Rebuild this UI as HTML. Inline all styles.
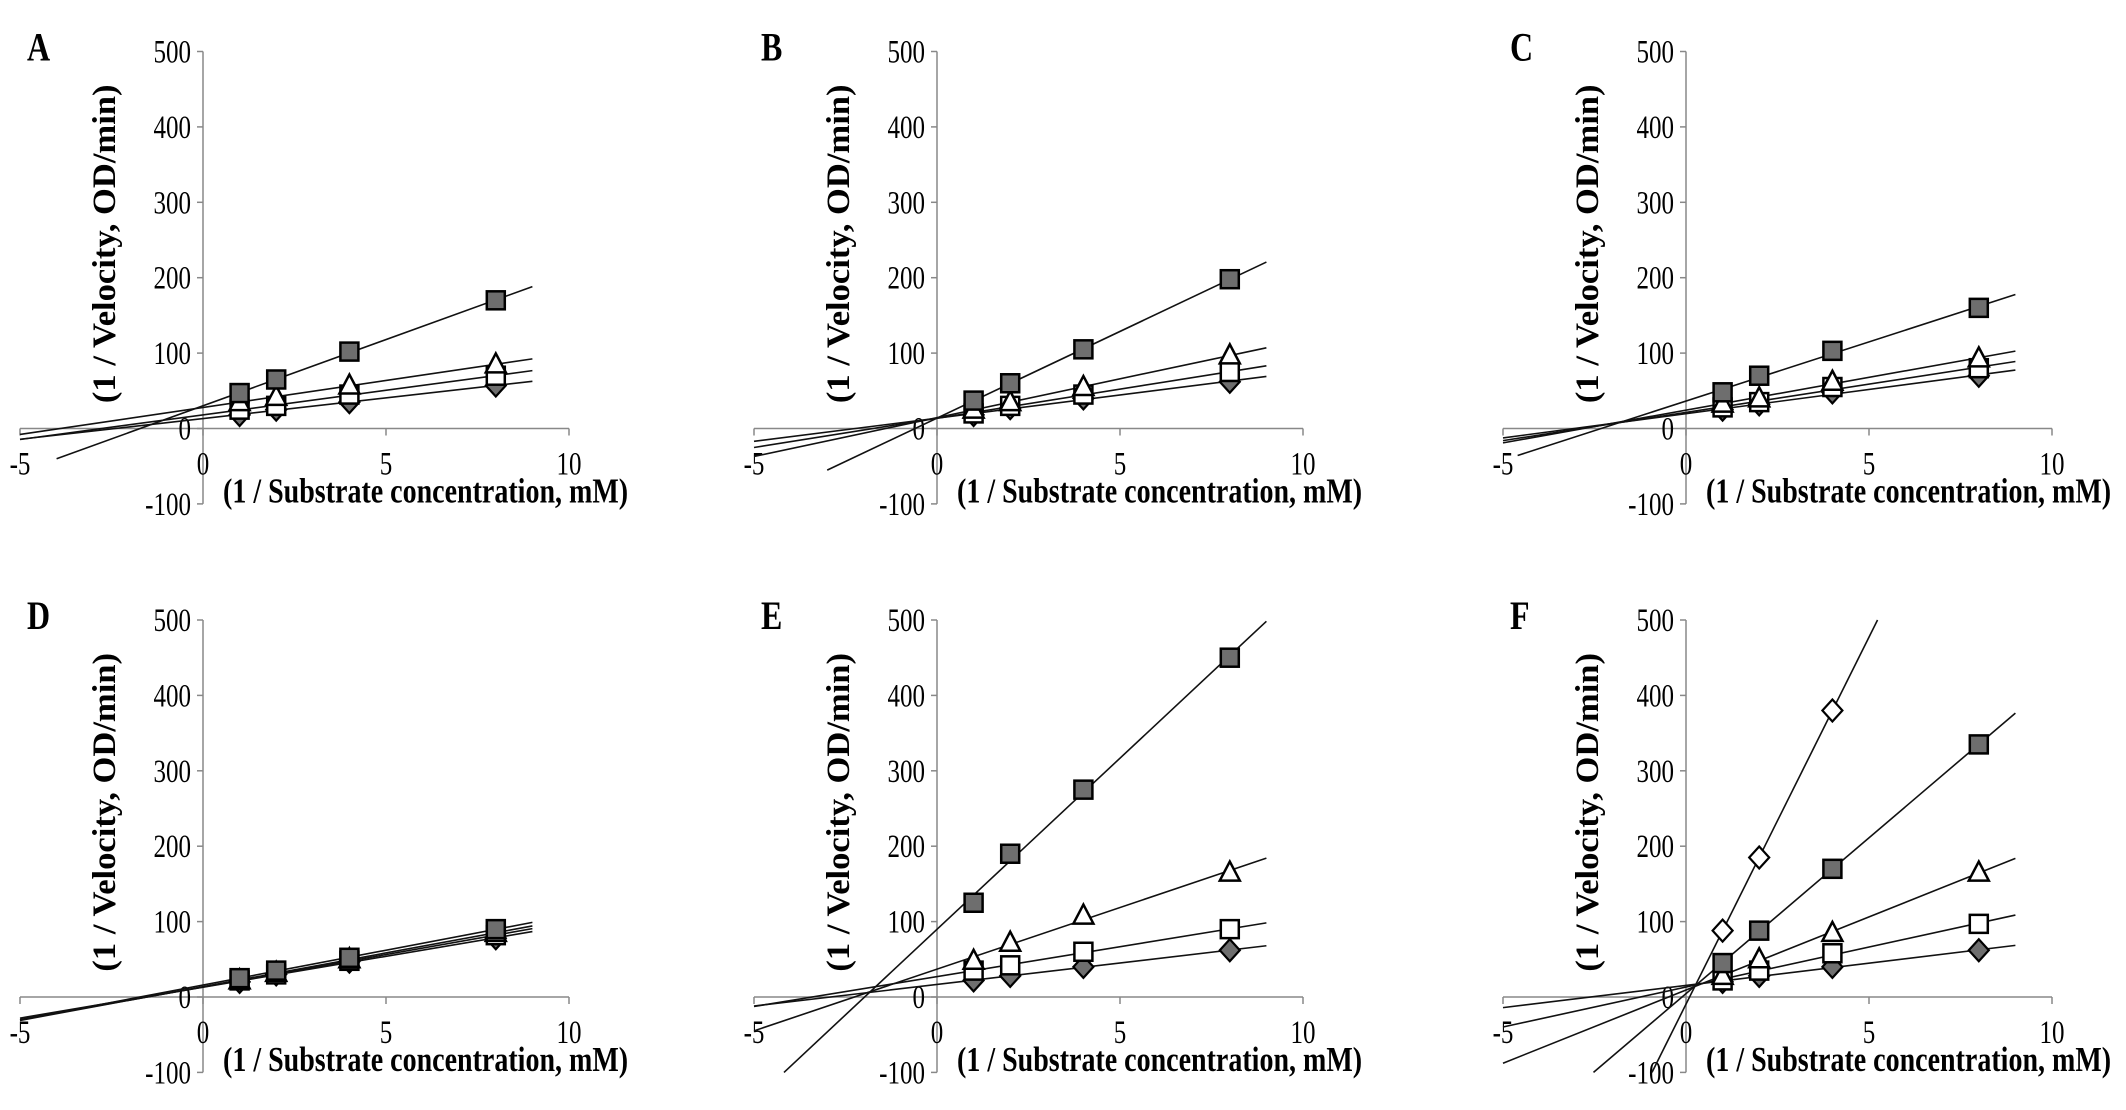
<!DOCTYPE html>
<html><head><meta charset="utf-8"><style>
html,body{margin:0;padding:0;background:#fff;}
svg{display:block;font-family:"Liberation Serif",serif;}
</style></head><body>
<svg id="fig" width="2126" height="1110" viewBox="0 0 2126 1110"></svg>
<script>
const xValues = [1, 2, 4, 8];
const panelLabels = ["A","B","C","D","E","F"];
const yTicks = [-100, 0, 100, 200, 300, 400, 500];
const xTicks = [-5, 0, 5, 10];
const xTickLabels = ["-5","0","5","10"];
// series per panel: filled square, open triangle, open square, filled diamond, open diamond
const sqFilledA = [47, 65, 102, 170];
const triA = [35, 42, 57, 85];
const sqOpenA = [25, 30, 45, 70];
const diaA = [18, 25, 35, 57];
const sqFilledB = [37, 60, 105, 198];
const triB = [25, 35, 55, 97];
const sqOpenB = [20, 30, 45, 75];
const diaB = [18, 27, 40, 62];
const sqFilledC = [48, 70, 103, 160];
const triC = [33, 40, 62, 93];
const sqOpenC = [28, 35, 55, 80];
const diaC = [25, 32, 48, 70];
const sqFilledD = [25, 35, 52, 90];
const triD = [22, 32, 50, 85];
const sqOpenD = [22, 30, 48, 82];
const diaD = [20, 30, 47, 78];
const sqFilledE = [125, 190, 275, 450];
const triE = [48, 72, 108, 165];
const sqOpenE = [35, 42, 60, 90];
const diaE = [22, 28, 40, 62];
const diaOpenF = [88, 185, 380];
const sqFilledF = [45, 88, 170, 335];
const triF = [28, 50, 85, 165];
const sqOpenF = [22, 35, 58, 97];
const diaF = [20, 28, 40, 62];

const panelSeries = [
  [["sqf",sqFilledA],["tri",triA],["sqo",sqOpenA],["dia",diaA]],
  [["sqf",sqFilledB],["tri",triB],["sqo",sqOpenB],["dia",diaB]],
  [["sqf",sqFilledC],["tri",triC],["sqo",sqOpenC],["dia",diaC]],
  [["sqf",sqFilledD],["tri",triD],["sqo",sqOpenD],["dia",diaD]],
  [["sqf",sqFilledE],["tri",triE],["sqo",sqOpenE],["dia",diaE]],
  [["diao",diaOpenF],["sqf",sqFilledF],["tri",triF],["sqo",sqOpenF],["dia",diaF]]
];
// where the first (steepest) fit line starts, in x units
const firstLineStart = [-4, -3, -4.6, -5, -4.5, -5];
const NS = "http://www.w3.org/2000/svg";
const svg = document.getElementById("fig");
function mk(tag, attrs, parent){
  const e = document.createElementNS(NS, tag);
  for (const k in attrs) e.setAttribute(k, attrs[k]);
  (parent||svg).appendChild(e);
  return e;
}
function txt(parent, x, y, str, size, anchor, bold, sy, rot){
  const t = mk("text", {x: 0, y: 0, "font-size": size, "text-anchor": anchor, transform: `translate(${x} ${y})` + (rot?` rotate(${rot})`:"") + ` scale(1 ${sy})`}, parent);
  if (bold) t.setAttribute("font-weight", "bold");
  t.textContent = str;
  return t;
}
const originsX = [203, 937, 1686, 203, 937, 1686];
const originsY = [428.5, 428.5, 428.5, 997, 997, 997];
const PXU = 36.6, PYU = 0.754;
const GRAY = "#6e6e6e";

panelSeries.forEach((series, p) => {
  const ox = originsX[p], oy = originsY[p];
  const sx = v => ox + v*PXU;
  const sy = v => oy - v*PYU;
  const g = mk("g", {});
  
  
  const lab = txt(g, ox-176, sy(500)+9, panelLabels[p], 32, "start", true, 1.25);
  
  
  const ya = mk("line", {x1: ox, y1: sy(500), x2: ox, y2: sy(-100), stroke: "#888", "stroke-width": 1.5}, g);
  
  
  const xa = mk("line", {x1: sx(-5), y1: oy, x2: sx(10), y2: oy, stroke: "#888", "stroke-width": 1.5}, g);
  
  
  yTicks.forEach(t => {
    mk("line", {x1: ox-6, y1: sy(t), x2: ox, y2: sy(t), stroke: "#888", "stroke-width": 1.5}, g);
    const tl = txt(g, ox-12, sy(t)+11, String(t), 25, "end", false, 1.3);
    
    
  });
  xTicks.forEach((t, i) => {
    mk("line", {x1: sx(t), y1: oy, x2: sx(t), y2: oy+7, stroke: "#888", "stroke-width": 1.5}, g);
    const tl = txt(g, sx(t), oy+46, xTickLabels[i], 25, "middle", false, 1.3);
    
    
  });
  const xt = txt(g, ox+20, oy+74, "(1 / Substrate concentration, mM)", 28, "start", true, 1.25);
  
  
  const yt = txt(g, ox-88, sy(245), "(1 / Velocity, OD/min)", 27, "middle", true, 1.2, -90);
  yt.setAttribute("transform", `translate(${ox-88} ${sy(245)}) rotate(-90) scale(1.28 1.2)`);
  
  
  series.forEach(([type, ys], si) => {
    const xs = xValues.slice(0, ys.length);
    const n = xs.length;
    const mx = xs.reduce((a,b)=>a+b,0)/n, my = ys.reduce((a,b)=>a+b,0)/n;
    let num=0, den=0;
    for (let i=0;i<n;i++){ num += (xs[i]-mx)*(ys[i]-my); den += (xs[i]-mx)**2; }
    const m = num/den, b = my - m*mx;
    let x0 = (type==="sqf") ? firstLineStart[p] : -5, x1 = 9;
    const yAt = x => m*x+b;
    if (yAt(x0) < -100) x0 = (-100-b)/m;
    if (yAt(x1) > 500) x1 = (500-b)/m;
    const ln = mk("line", {x1: sx(x0), y1: sy(yAt(x0)), x2: sx(x1), y2: sy(yAt(x1)), stroke: "#111", "stroke-width": 1.6}, g);
    
    
  });
  series.slice().reverse().forEach(([type, ys]) => {
    ys.forEach((v, i) => {
      const cx = sx(xValues[i]), cy = sy(v);
      let el;
      const s = 9;
      if (type === "sqf" || type === "sqo") {
        el = mk("rect", {x: cx-s, y: cy-s, width: 2*s, height: 2*s, fill: type==="sqf"?GRAY:"#fff", stroke: "#000", "stroke-width": 2.5}, g);
      } else if (type === "tri") {
        el = mk("polygon", {points: `${cx},${cy-11} ${cx+10},${cy+8} ${cx-10},${cy+8}`, fill: "#fff", stroke: "#000", "stroke-width": 2.5}, g);
      } else {
        el = mk("polygon", {points: `${cx},${cy-11} ${cx+10},${cy} ${cx},${cy+11} ${cx-10},${cy}`, fill: type==="dia"?GRAY:"#fff", stroke: "#000", "stroke-width": 2.2}, g);
      }
      
      
    });
  });
});
</script>
</body></html>
